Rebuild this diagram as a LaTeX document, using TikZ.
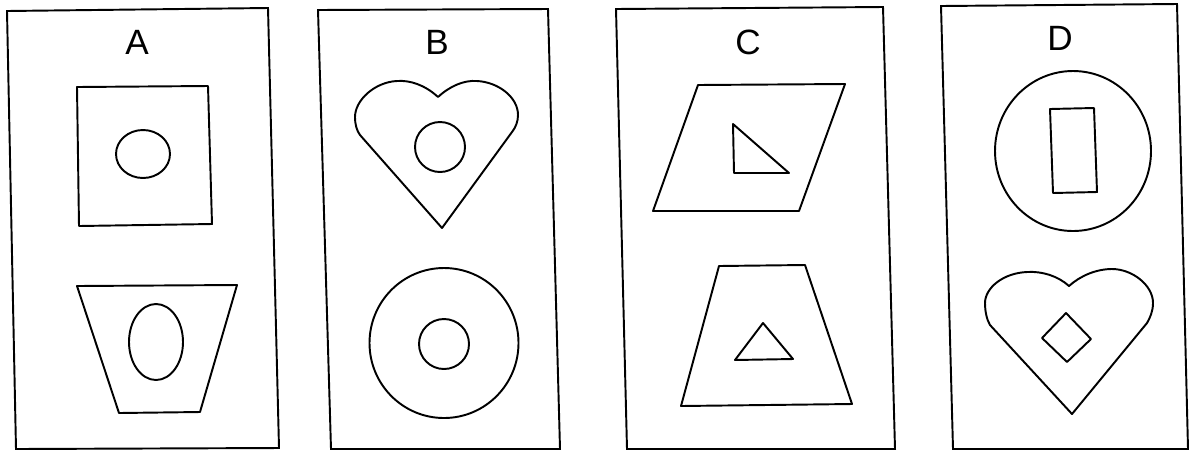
\documentclass[tikz,border=0pt]{standalone}
\usepackage{fontspec}
\setmainfont{Liberation Sans}
\begin{document}
\begin{tikzpicture}[x=0.02cm,y=-0.02cm,
  frame/.style={line width=1.1pt,line join=miter},
  figline/.style={line width=1.1pt,line join=round},
  lettr/.style={font=\fontsize{20}{24}\selectfont,inner sep=0pt}]
\useasboundingbox (0,0) rectangle (1189,451);
% Panel A
\draw[frame] (7,11) -- (268,8) -- (279,448) -- (16,449) -- cycle;
\node[lettr] (la) at (137,42) {A};
\draw[figline] (77,87) -- (208,86) -- (212,224) -- (79,226) -- cycle;
\draw[figline] (143,154) ellipse [x radius=27,y radius=24];
\draw[figline] (77,286) -- (237,285) -- (200,412) -- (119,413) -- cycle;
\draw[figline] (156,342) ellipse [x radius=27,y radius=38];
% Panel B
\draw[frame] (318,10) -- (548,9) -- (560,449) -- (331,449) -- cycle;
\node[lettr] (lb) at (437,42) {B};
\draw[figline] (438,97) .. controls (425,85) and (410,80) .. (397,81)
  .. controls (375,82) and (355,100) .. (355,117)
  .. controls (355,125) and (357,131) .. (360,135) -- (442,228) -- (512,132)
  .. controls (516,127) and (518,121) .. (518,115)
  .. controls (518,97) and (498,82) .. (477,81)
  .. controls (464,80) and (450,86) .. (438,97) -- cycle;
\draw[figline] (440,147) circle [radius=25];
\draw[figline] (444,343) ellipse [x radius=74.5,y radius=75];
\draw[figline] (444,344) circle [radius=25];
% Panel C
\draw[frame] (616,9) -- (883,7) -- (895,449) -- (627,449) -- cycle;
\node[lettr] (lc) at (748,42) {C};
\draw[figline] (698,85) -- (845,84) -- (799,211) -- (653,211) -- cycle;
\draw[figline] (733,124) -- (789,173) -- (734,173) -- cycle;
\draw[figline] (719,266) -- (805,265) -- (852,404) -- (681,406) -- cycle;
\draw[figline] (763,323) -- (793,359) -- (735,360) -- cycle;
% Panel D
\draw[frame] (941,6) -- (1177,4) -- (1188,449) -- (953,449) -- cycle;
\node[lettr] (ld) at (1060,38) {D};
\draw[figline] (1073,151) ellipse [x radius=78,y radius=80];
\draw[figline] (1050,109) -- (1094,108) -- (1097,192) -- (1053,193) -- cycle;
\draw[figline] (1069,286) .. controls (1058,276) and (1042,271) .. (1027,272)
  .. controls (1003,273) and (985,288) .. (985,303)
  .. controls (985,312) and (987,320) .. (990,325) -- (1072,414) -- (1147,323)
  .. controls (1150,318) and (1153,311) .. (1153,303)
  .. controls (1153,285) and (1132,269) .. (1112,269)
  .. controls (1096,269) and (1080,276) .. (1069,286) -- cycle;
\draw[figline] (1066,313) -- (1091,339) -- (1067,362) -- (1042,338) -- cycle;
\end{tikzpicture}
\end{document}
